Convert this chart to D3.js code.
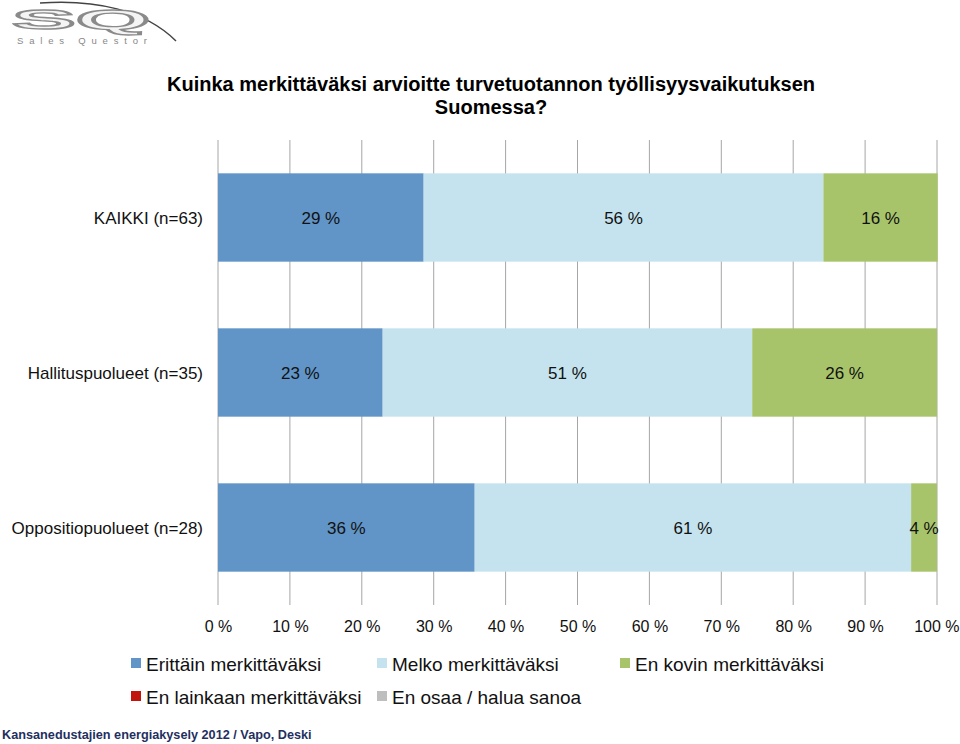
<!DOCTYPE html>
<html><head><meta charset="utf-8">
<script src="https://cdn.jsdelivr.net/npm/d3@7"></script>
<style>body{margin:0;background:#fff}svg{display:block;font-family:"Liberation Sans",Arial,sans-serif}</style>
</head><body><svg id="c" width="960" height="744"></svg>
<script>
const categories = ["KAIKKI (n=63)", "Hallituspuolueet (n=35)", "Oppositiopuolueet (n=28)"];
const seriesNames = ["Erittäin merkittäväksi", "Melko merkittäväksi", "En kovin merkittäväksi", "En lainkaan merkittäväksi", "En osaa / halua sanoa"];
const seriesColors = ["#6195C8", "#C4E3EE", "#A8C46B", "#C0140C", "#BEBEBE"];
const erittain = [28.6, 22.9, 35.7];
const melko = [55.6, 51.4, 60.7];
const enKovin = [15.9, 25.7, 3.6];
const enLainkaan = [0, 0, 0];
const enOsaa = [0, 0, 0];
const xTicks = [0, 10, 20, 30, 40, 50, 60, 70, 80, 90, 100];
const title = ["Kuinka merkittäväksi arvioitte turvetuotannon työllisyysvaikutuksen", "Suomessa?"];
const footer = "Kansanedustajien energiakysely 2012 / Vapo, Deski";

const svg = d3.select("#c");
const series = [erittain, melko, enKovin, enLainkaan, enOsaa];
const rows = categories.map((c, i) => {
  const r = {cat: c};
  seriesNames.forEach((s, j) => r[s] = series[j][i]);
  return r;
});
const stacked = d3.stack().keys(seriesNames)(rows);

const x = d3.scaleLinear().domain([0, 100]).range([218, 937]);
const y = d3.scaleBand().domain(categories).range([140, 605]).paddingInner(0.43).paddingOuter(0.215);

// logo
const logo = svg.append("g");
logo.append("path").attr("d", "M40,3 C95,-1 145,10 176,41").attr("fill", "none").attr("stroke", "#444").attr("stroke-width", 1.5);
logo.append("text").attr("x", 12).attr("y", 29).attr("font-size", 27).attr("font-weight", "bold")
  .attr("fill", "#f4f4f4").attr("stroke", "#8a8a8a").attr("stroke-width", 1.4).attr("textLength", 138).attr("lengthAdjust", "spacingAndGlyphs").text("SQ");
logo.append("text").attr("x", 17).attr("y", 44).attr("font-size", 9.5).attr("fill", "#888").attr("textLength", 130).attr("lengthAdjust", "spacing").text("Sales Questor");

// title
svg.append("g").selectAll("text").data(title).join("text")
  .attr("x", 491).attr("y", (d, i) => 91 + i * 23).attr("text-anchor", "middle")
  .attr("font-size", 20).attr("font-weight", "bold").text(d => d);

// grid
svg.append("g").selectAll("line").data(xTicks).join("line")
  .attr("x1", d => x(d)).attr("x2", d => x(d)).attr("y1", 140).attr("y2", 605)
  .attr("stroke", "#a6a6a6").attr("stroke-width", 1);

// bars
const g = svg.append("g");
stacked.forEach((s, j) => {
  g.append("g").attr("fill", seriesColors[j]).selectAll("rect").data(s).join("rect")
    .attr("x", d => x(d[0])).attr("width", d => x(d[1]) - x(d[0]))
    .attr("y", d => y(d.data.cat)).attr("height", y.bandwidth());
  g.append("g").selectAll("text").data(s.filter(d => d[1] - d[0] > 0)).join("text")
    .attr("x", d => (x(d[0]) + x(d[1])) / 2).attr("y", d => y(d.data.cat) + y.bandwidth() / 2 + 6)
    .attr("text-anchor", "middle").attr("font-size", 17).attr("fill", "#111")
    .text(d => Math.round(d[1] - d[0]) + " %");
});

// category labels
svg.append("g").selectAll("text").data(categories).join("text")
  .attr("x", 203).attr("y", d => y(d) + y.bandwidth() / 2 + 6).attr("text-anchor", "end")
  .attr("font-size", 17).attr("fill", "#111").text(d => d);

// x axis
const ax = svg.append("g").attr("transform", "translate(0,605)")
  .call(d3.axisBottom(x).tickValues(xTicks).tickSize(0).tickPadding(16).tickFormat(d => d + " %"));
ax.select(".domain").remove();
ax.selectAll("text").attr("font-size", 16).attr("fill", "#111").attr("font-family", "Liberation Sans, Arial, sans-serif");
ax.selectAll(".tick").filter(d => d === 100).select("text").attr("text-anchor", "end").attr("x", 22);

// legend
const legPos = [[131, 671], [377, 671], [620, 671], [131, 704], [377, 704]];
const leg = svg.append("g").selectAll("g").data(seriesNames).join("g")
  .attr("transform", (d, i) => `translate(${legPos[i][0]},${legPos[i][1]})`);
leg.append("rect").attr("x", 0).attr("y", -13).attr("width", 10).attr("height", 10).attr("fill", (d, i) => seriesColors[i]);
leg.append("text").attr("x", 15).attr("y", 0).attr("font-size", 19).attr("fill", "#111").text(d => d);

// footer
svg.append("text").attr("x", 2).attr("y", 739).attr("font-size", 12.7).attr("font-weight", "bold")
  .attr("fill", "#1F2F5F").text(footer);
</script></body></html>
